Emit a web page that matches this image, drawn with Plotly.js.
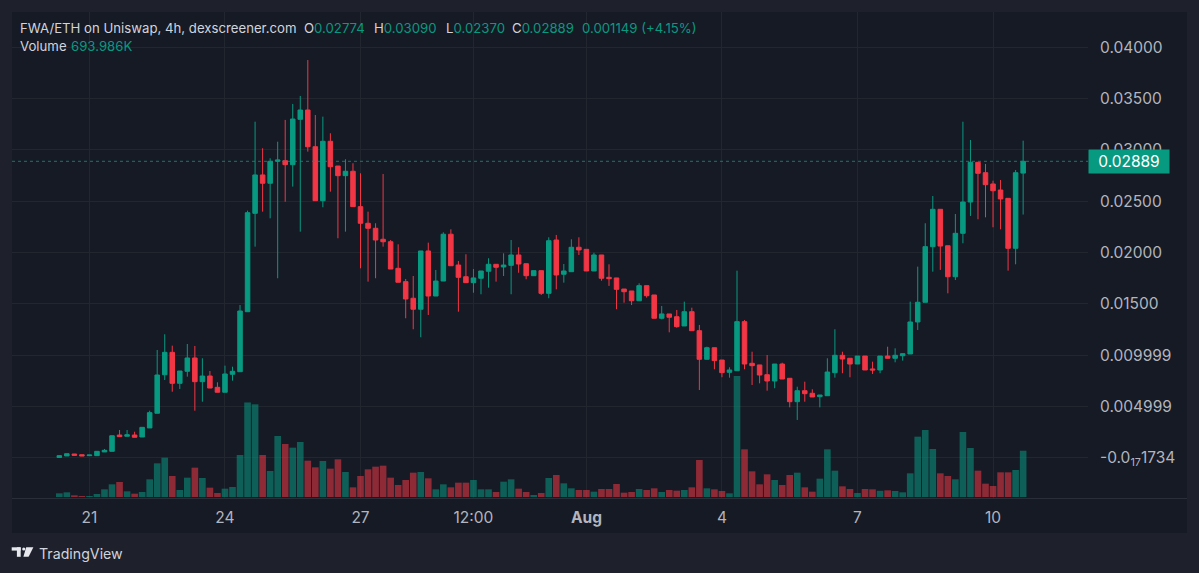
<!DOCTYPE html>
<html>
<head>
<meta charset="utf-8">
<script src="https://cdn.plot.ly/plotly-3.0.1.min.js"></script>
<style>
  html, body { margin: 0; padding: 0; background: #1e212b; }
  #chart { width: 1199px; height: 573px; }
</style>
</head>
<body>
<div id="chart"></div>
<script>
// ---- Data: FWA/ETH 4h candles ----
const opens = [
  0.00002,0.00017,0.00036,0.00029,0.00020,0.00020,0.00056,0.00062,0.00221,0.00209,
  0.00221,0.00202,0.00290,0.00433,0.00809,0.01027,0.00725,0.00842,0.00972,0.00741,
  0.00796,0.00686,0.00638,0.00813,0.00838,0.01423,0.02382,0.02756,0.02675,0.02889,
  0.02895,0.02856,0.03298,0.03389,0.03031,0.02505,0.03084,0.02843,0.02749,0.02792,
  0.02447,0.02285,0.02236,0.02129,0.02105,0.01846,0.01716,0.01554,0.01447,0.02015,
  0.01576,0.01722,0.02178,0.01878,0.01764,0.01706,0.01749,0.01817,0.01885,0.01859,
  0.01875,0.01976,0.01891,0.01774,0.01823,0.01602,0.02122,0.01788,0.01813,0.02051,
  0.02031,0.01820,0.01976,0.01758,0.01752,0.01644,0.01625,0.01530,0.01677,0.01586,
  0.01359,0.01401,0.01374,0.01284,0.01423,0.01238,0.00959,0.01072,0.00952,0.00832,
  0.00848,0.01326,0.00920,0.00904,0.00809,0.00748,0.00913,0.00774,0.00546,0.00653,
  0.00628,0.00595,0.00604,0.00829,0.00998,0.00969,0.00913,0.00991,0.00865,0.00855,
  0.00991,0.00969,0.00994,0.01011,0.01323,0.01515,0.02057,0.02421,0.02066,0.01764,
  0.02187,0.02492,0.02879,0.02778,0.02668,0.02609,0.02528,0.02041,0.02774
];
const highs = [
  0.00022,0.00039,0.00036,0.00029,0.00026,0.00062,0.00085,0.00214,0.00270,0.00270,
  0.00253,0.00296,0.00458,0.01050,0.01203,0.01092,0.00845,0.01108,0.01089,0.00969,
  0.00845,0.00735,0.00897,0.00887,0.01488,0.02408,0.03275,0.03016,0.02918,0.03080,
  0.03292,0.03448,0.03526,0.03876,0.03340,0.03324,0.03162,0.02843,0.02909,0.02870,
  0.02772,0.02398,0.02285,0.02765,0.02122,0.02080,0.01742,0.01771,0.02015,0.02096,
  0.01830,0.02197,0.02226,0.01917,0.01983,0.01839,0.01820,0.01944,0.01885,0.01992,
  0.02122,0.02051,0.01891,0.01823,0.01823,0.02148,0.02171,0.01888,0.02129,0.02148,
  0.02031,0.01998,0.01976,0.01885,0.01752,0.01644,0.01625,0.01700,0.01677,0.01586,
  0.01479,0.01401,0.01440,0.01521,0.01462,0.01294,0.01082,0.01072,0.00952,0.00881,
  0.01823,0.01342,0.01033,0.00904,0.01001,0.00913,0.00926,0.00774,0.00692,0.00741,
  0.00667,0.00611,0.00969,0.01252,0.01033,0.00969,0.00991,0.00991,0.00936,0.00991,
  0.01082,0.01066,0.01014,0.01521,0.01862,0.02285,0.02551,0.02421,0.02066,0.02375,
  0.03275,0.03097,0.02879,0.02863,0.02700,0.02707,0.02528,0.02804,0.03090
];
const lows = [
  0.00001,0.00017,0.00023,0.00017,0.00020,0.00020,0.00056,0.00062,0.00205,0.00209,
  0.00199,0.00202,0.00290,0.00433,0.00757,0.00643,0.00670,0.00790,0.00458,0.00546,
  0.00679,0.00638,0.00638,0.00751,0.00838,0.01423,0.02057,0.02398,0.02333,0.01749,
  0.02495,0.02642,0.02203,0.02983,0.02505,0.02441,0.02593,0.02139,0.02203,0.02447,
  0.01846,0.01716,0.01749,0.02057,0.01839,0.01710,0.01359,0.01252,0.01174,0.01391,
  0.01576,0.01722,0.01871,0.01423,0.01706,0.01608,0.01593,0.01657,0.01716,0.01771,
  0.01593,0.01803,0.01739,0.01774,0.01586,0.01554,0.01641,0.01706,0.01813,0.01976,
  0.01820,0.01820,0.01725,0.01674,0.01447,0.01511,0.01488,0.01530,0.01560,0.01359,
  0.01349,0.01222,0.01267,0.01284,0.01238,0.00660,0.00959,0.00862,0.00784,0.00780,
  0.00848,0.00862,0.00709,0.00725,0.00653,0.00677,0.00767,0.00491,0.00368,0.00546,
  0.00592,0.00491,0.00604,0.00780,0.00823,0.00784,0.00913,0.00855,0.00816,0.00823,
  0.00969,0.00930,0.00946,0.01011,0.01245,0.01515,0.01813,0.01830,0.01602,0.01732,
  0.02090,0.02356,0.02324,0.02343,0.02246,0.02226,0.01823,0.01885,0.02370
];
const closes = [
  0.00020,0.00039,0.00023,0.00017,0.00026,0.00062,0.00072,0.00214,0.00205,0.00224,
  0.00199,0.00296,0.00439,0.00806,0.01027,0.00725,0.00845,0.00972,0.00741,0.00796,
  0.00679,0.00638,0.00816,0.00842,0.01430,0.02388,0.02756,0.02675,0.02889,0.02902,
  0.02856,0.03301,0.03389,0.03031,0.02505,0.03084,0.02836,0.02749,0.02792,0.02447,
  0.02285,0.02236,0.02122,0.02105,0.01839,0.01710,0.01547,0.01447,0.02015,0.01576,
  0.01722,0.02178,0.01871,0.01758,0.01706,0.01752,0.01820,0.01885,0.01856,0.01878,
  0.01976,0.01888,0.01774,0.01823,0.01602,0.02115,0.01781,0.01820,0.02051,0.02025,
  0.01820,0.01976,0.01749,0.01745,0.01641,0.01618,0.01530,0.01677,0.01579,0.01359,
  0.01401,0.01369,0.01277,0.01423,0.01238,0.00959,0.01072,0.00946,0.00829,0.00855,
  0.01326,0.00913,0.00897,0.00806,0.00748,0.00913,0.00767,0.00546,0.00653,0.00624,
  0.00592,0.00611,0.00835,0.00998,0.00962,0.00913,0.00991,0.00855,0.00855,0.00991,
  0.00969,0.00998,0.01014,0.01323,0.01515,0.02057,0.02421,0.02063,0.01764,0.02187,
  0.02492,0.02879,0.02772,0.02661,0.02602,0.02522,0.02041,0.02778,0.02889
];
// volume in thousands
const volumesK = [
  55,70,25,15,15,45,115,190,225,85,50,75,265,505,590,315,105,290,440,285,140,60,125,150,630,
  1418,1390,630,390,915,795,740,825,545,445,540,425,565,375,145,315,415,455,470,290,180,
  255,365,375,280,115,190,145,215,215,255,115,115,75,230,265,125,75,30,60,285,330,
  205,130,105,105,80,120,120,195,65,75,120,105,130,75,105,95,105,145,555,130,115,
  90,55,1815,715,385,190,340,255,180,330,365,145,80,275,715,395,160,120,60,120,115,
  93,100,90,70,355,905,1005,720,355,315,265,975,735,395,200,165,370,370,405,693.986
];
const firstBarUTC = Date.UTC(2024, 6, 20, 8, 0);   // 20 Jul, 08:00
const barMs = 4 * 3600 * 1000;
const tickDates = ['2024-07-21 00:00','2024-07-24 00:00','2024-07-27 00:00','2024-07-29 12:00',
                   '2024-08-01 00:00','2024-08-04 00:00','2024-08-07 00:00','2024-08-10 00:00'];
const tickLabels = ['21','24','27','12:00','<b>Aug</b>','4','7','10'];
const priceTicks = [0.04, 0.035, 0.03, 0.025, 0.02, 0.015, 0.009999, 0.004999, -1.734e-17];
const priceLabels = ['0.04000','0.03500','0.03000','0.02500','0.02000','0.01500','0.009999','0.004999','-0.0<sub>17</sub>1734'];
const lastPrice = 0.02889;

// ---- Build ----
const fmt = ms => new Date(ms).toISOString().slice(0,16).replace('T',' ');
const times = closes.map((_, i) => fmt(firstBarUTC + i * barMs));
const UP = '#089981', DN = '#f23645';
const volColors = closes.map((c, i) => c >= opens[i] ? 'rgba(8,153,129,0.55)' : 'rgba(242,54,69,0.55)');

// layout geometry (pixels)
const W = 1199, H = 573;
const plotL = 12, plotR = 1088, plotT = 12, plotB = 498;
const px = x => (x - plotL) / (plotR - plotL);
const py = y => (plotB - y) / (plotB - plotT);
const barAtPx = p => fmt(firstBarUTC + ((p - 59.3) / 7.53) * barMs);

const FONT = 'Inter, "Noto Sans", sans-serif';
const TXT = '#d1d4dc', AX = '#b2b5be', GRID = '#22262f';

const traces = [
  {
    type: 'bar', x: times, y: volumesK, yaxis: 'y2',
    marker: { color: volColors, line: { width: 0 } },
    width: 0.88 * barMs, hoverinfo: 'skip', showlegend: false
  },
  {
    type: 'candlestick', x: times, open: opens, high: highs, low: lows, close: closes,
    increasing: { line: { color: UP, width: 1 }, fillcolor: UP },
    decreasing: { line: { color: DN, width: 1 }, fillcolor: DN },
    whiskerwidth: 0, showlegend: false
  }
];

const ann = [];
const hdrY = py(28), volY = py(46);
const HS = 13.2;
const addText = (x, y, text, color, size, extra) => ann.push(Object.assign({
  xref: 'paper', yref: 'paper', x: px(x), y: y, xanchor: 'left', yanchor: 'middle',
  text: text, showarrow: false, font: { family: FONT, size: size, color: color }
}, extra || {}));
addText(18, hdrY, 'FWA/ETH on Uniswap, 4h, dexscreener.com', TXT, HS);
addText(302, hdrY, 'O<span style="color:' + UP + '">0.02774</span>', TXT, HS);
addText(372, hdrY, 'H<span style="color:' + UP + '">0.03090</span>', TXT, HS);
addText(444, hdrY, 'L<span style="color:' + UP + '">0.02370</span>', TXT, HS);
addText(510, hdrY, 'C<span style="color:' + UP + '">0.02889</span>', TXT, HS);
addText(580, hdrY, '0.001149 (+4.15%)', UP, HS);
addText(18, volY, 'Volume', TXT, HS);
addText(69, volY, '693.986K', UP, HS);
addText(37, py(554), 'TradingView', TXT, 14.2);
// last price tag
ann.push({
  xref: 'paper', yref: 'y', x: 1, y: lastPrice, xanchor: 'left', yanchor: 'middle',
  text: '0.02889', showarrow: false, bgcolor: UP, borderpad: 3, width: 74, height: 17,
  align: 'center', font: { family: FONT, size: 15.5, color: '#ffffff' }
});

const rectPx = (x0, y0, x1, y1, fill, layer) => ({
  type: 'rect', xref: 'paper', yref: 'paper', x0: px(x0), x1: px(x1), y0: py(y0), y1: py(y1),
  fillcolor: fill, line: { width: 0 }, layer: layer || 'above'
});
const shapes = [
  rectPx(12, 12, 1187, 533, '#161a25', 'below'),
  // last price dotted line
  { type: 'line', xref: 'paper', yref: 'y', x0: 0, x1: 1, y0: lastPrice, y1: lastPrice,
    line: { color: 'rgba(8,153,129,0.8)', width: 1, dash: 'dot' }, layer: 'above' },
  // separator under the plot
  { type: 'line', xref: 'paper', yref: 'paper', x0: px(12), x1: px(1187), y0: py(498.5), y1: py(498.5),
    line: { color: '#2a2e39', width: 1 } },
  // TradingView logo
  rectPx(11.7, 547.3, 20.7, 550.6, '#e6e8ee'),
  rectPx(16.9, 547.3, 20.7, 556.8, '#e6e8ee'),
  { type: 'circle', xref: 'paper', yref: 'paper', x0: px(22.2), x1: px(25.4), y0: py(547.4), y1: py(550.6),
    fillcolor: '#e6e8ee', line: { width: 0 } },
  { type: 'path', xref: 'paper', yref: 'paper', fillcolor: '#e6e8ee', line: { width: 0 },
    path: 'M' + px(26.2) + ',' + py(547.3) + ' L' + px(33.4) + ',' + py(547.3) +
          ' L' + px(28.6) + ',' + py(556.8) + ' L' + px(23.4) + ',' + py(556.8) + ' Z' }
];

const layout = {
  width: W, height: H,
  margin: { l: plotL, r: W - plotR, t: plotT, b: H - plotB, pad: 0 },
  paper_bgcolor: '#1e212b', plot_bgcolor: '#161a25',
  font: { family: FONT, color: AX },
  showlegend: false, dragmode: false, hovermode: false,
  boxgap: 0.4, boxgroupgap: 0,
  barmode: 'overlay',
  xaxis: {
    type: 'date', range: [barAtPx(plotL), barAtPx(plotR)],
    rangeslider: { visible: false },
    tickmode: 'array', tickvals: tickDates, ticktext: tickLabels,
    showgrid: true, gridcolor: GRID, gridwidth: 1, zeroline: false, showline: false,
    ticks: '', ticklabelstandoff: 8,
    tickfont: { family: FONT, size: 15.5, color: AX }
  },
  yaxis: {
    side: 'right', range: [-0.003928, 0.043442], fixedrange: true,
    tickmode: 'array', tickvals: priceTicks, ticktext: priceLabels,
    showgrid: true, gridcolor: GRID, gridwidth: 1, zeroline: false, showline: false,
    ticks: '', ticklabelstandoff: 11,
    tickfont: { family: FONT, size: 15.5, color: AX }
  },
  yaxis2: {
    overlaying: 'y', side: 'left', range: [-15, 7275], visible: false,
    showgrid: false, zeroline: false, fixedrange: true
  },
  shapes: shapes,
  annotations: ann
};

Plotly.newPlot('chart', traces, layout, { staticPlot: true, displayModeBar: false });
</script>
</body>
</html>
